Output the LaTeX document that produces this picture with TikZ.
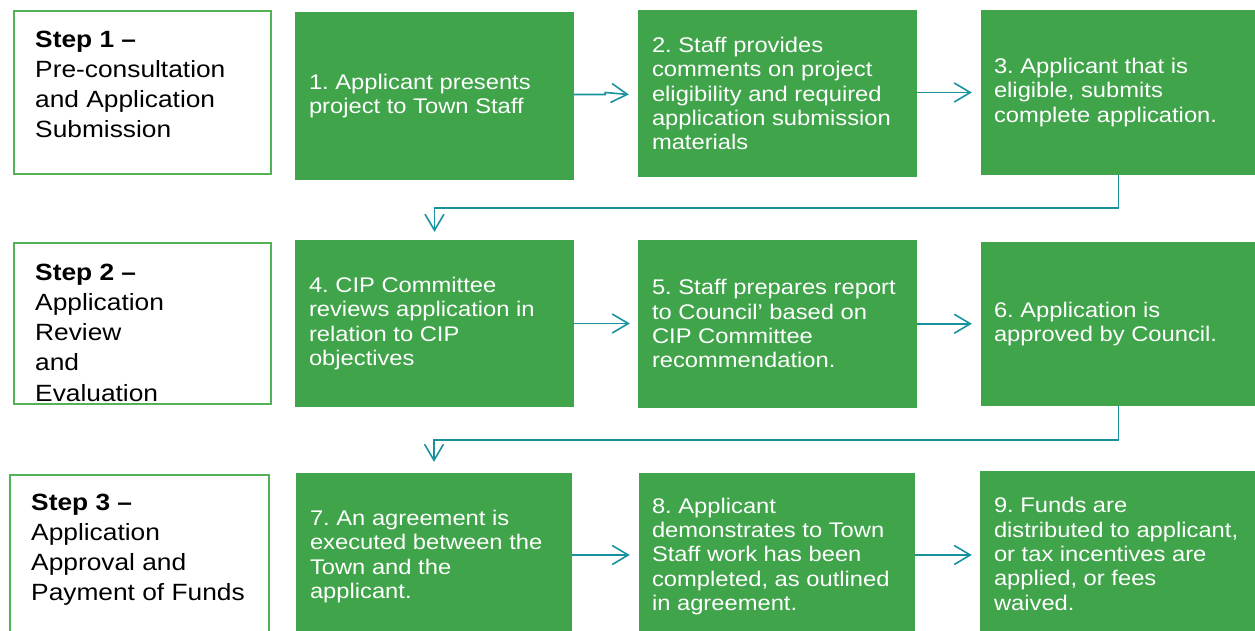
\documentclass[tikz,border=0pt]{standalone}
\usepackage{fontspec}
\setmainfont{Liberation Sans}[FakeStretch=1.12]
\usetikzlibrary{arrows.meta,calc}
\frenchspacing
\definecolor{boxgreen}{RGB}{64,164,74}
\definecolor{stepgreen}{RGB}{84,178,86}
\definecolor{arrowteal}{RGB}{24,146,158}
\tikzset{
  gbox/.style={fill=boxgreen, draw=none, inner sep=0pt},
  sbox/.style={draw=stepgreen, line width=2pt, fill=white, inner sep=0pt},
  gtext/.style={text=white, align=left, inner sep=0pt, anchor=west,
    font=\fontsize{21.2}{24.4}\selectfont},
  stext/.style={text=black, align=left, inner sep=0pt, anchor=north west,
    font=\fontsize{23.5}{30.2}\selectfont},
  arr/.style={draw=arrowteal, line width=1.6pt,
    -{Straight Barb[length=16pt,width=19pt]}},
}
\begin{document}
\frenchspacing
\begin{tikzpicture}[x=1pt,y=-1pt]
\useasboundingbox (0,0) rectangle (1255,631);
% step boxes
\node[sbox, minimum width=257pt, minimum height=163pt] (s1) at (142.5,92.5) {};
\node[sbox, minimum width=257pt, minimum height=161pt] (s2) at (142.5,323.5) {};
\node[sbox, minimum width=259pt, minimum height=170pt] (s3) at (139.5,560) {};
\node[stext] (s1t) at (35,25) {\rule{0pt}{22pt}\textbf{Step 1 –}\\Pre-consultation\\and Application\\Submission};
\node[stext] (s2t) at (35,258) {\rule{0pt}{22pt}\textbf{Step 2 –}\\Application\\Review\\and\\Evaluation};
\node[stext] (s3t) at (31,488) {\rule{0pt}{22pt}\textbf{Step 3 –}\\Application\\Approval and\\Payment of Funds};
% green boxes
\node[gbox, minimum width=279pt, minimum height=168pt] (b1) at (434.5,96) {};
\node[gbox, minimum width=279pt, minimum height=167pt] (b2) at (777.5,93.5) {};
\node[gbox, minimum width=275pt, minimum height=165pt] (b3) at (1118.5,92.5) {};
\node[gbox, minimum width=279pt, minimum height=167pt] (b4) at (434.5,323.5) {};
\node[gbox, minimum width=279pt, minimum height=167.5pt] (b5) at (777.5,323.75) {};
\node[gbox, minimum width=275pt, minimum height=163.5pt] (b6) at (1118.5,323.75) {};
\node[gbox, minimum width=276pt, minimum height=167pt] (b7) at (434,556.5) {};
\node[gbox, minimum width=276pt, minimum height=167pt] (b8) at (777,556.5) {};
\node[gbox, minimum width=276pt, minimum height=166pt] (b9) at (1118,554) {};
% texts
\node[gtext] (b1t) at ([xshift=14pt]b1.west) {1. Applicant presents\\project to Town Staff};
\node[gtext] (b2t) at ([xshift=14pt]b2.west) {2. Staff provides\\comments on project\\eligibility and required\\application submission\\materials};
\node[gtext] (b3t) at ([xshift=13pt]b3.west) {3. Applicant that is\\eligible, submits\\complete application.};
\node[gtext] (b4t) at ([xshift=14pt]b4.west) {4. CIP Committee\\reviews application in\\relation to CIP\\objectives};
\node[gtext] (b5t) at ([xshift=14pt]b5.west) {5. Staff prepares report\\to Council’ based on\\CIP Committee\\recommendation.};
\node[gtext] (b6t) at ([xshift=13pt]b6.west) {6. Application is\\approved by Council.};
\node[gtext] (b7t) at ([xshift=14pt]b7.west) {7. An agreement is\\executed between the\\Town and the\\applicant.};
\node[gtext] (b8t) at ([xshift=13pt]b8.west) {8. Applicant\\demonstrates to Town\\Staff work has been\\completed, as outlined\\in agreement.};
\node[gtext] (b9t) at ([xshift=14pt]b9.west) {9. Funds are\\distributed to applicant,\\or tax incentives are\\applied, or fees\\waived.};
% connectors
\draw[arr] ([yshift=1.5pt]b1.east) -- ++(31,0) -- ++(0,-2) -- ($(b2.west)+(-9,1)$);
\draw[arr] ([yshift=1pt]b2.east) -- ($(b3.west)+(-9,0)$);
\draw[arr] (b4.east) -- ($(b4.east -| b5.west)+(-8,0)$);
\draw[arr] (b5.east) -- ($(b5.east -| b6.west)+(-9,0)$);
\draw[arr] ([yshift=1.5pt]b7.east) -- ($(b7.east -| b8.west)+(-9,-1.5)$);
\draw[arr] ([yshift=1.5pt]b8.east) -- ($(b8.east -| b9.west)+(-8,-1.5)$);
\draw[arr] (b3.south) -- ++(0,33) -| ($(b4.north)+(0,-8)$);
\draw[arr] (b6.south) -- ++(0,34) -| ($(b7.north)+(0,-11)$);
\end{tikzpicture}
\end{document}
